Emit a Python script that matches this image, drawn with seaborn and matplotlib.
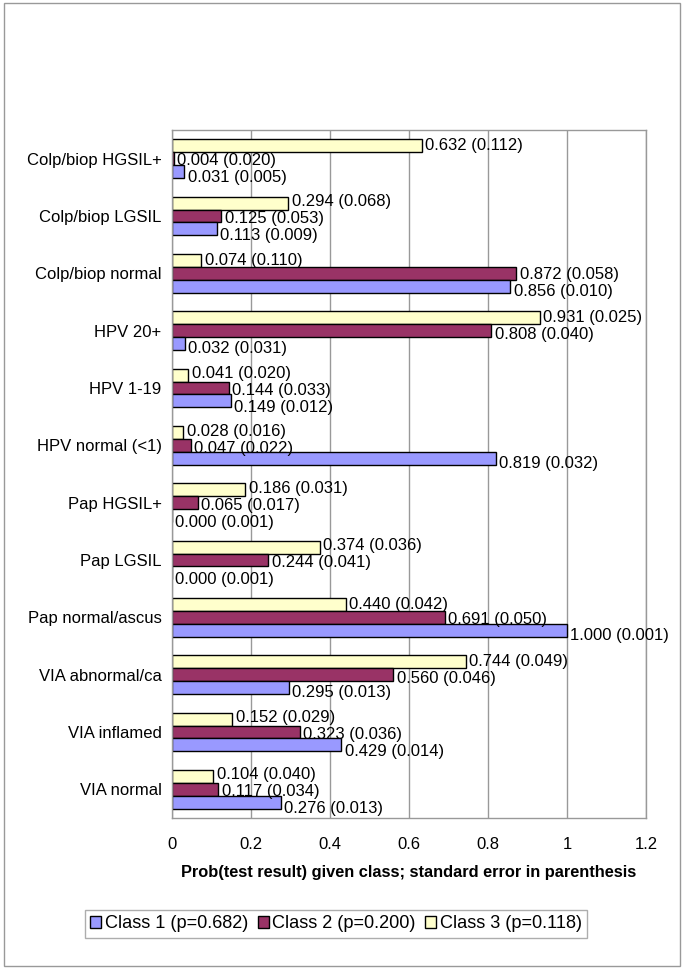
import matplotlib
matplotlib.use("Agg")
import matplotlib.pyplot as plt
import matplotlib.patches as mpatches
import numpy as np
import pandas as pd
import seaborn as sns

categories = ["Colp/biop HGSIL+", "Colp/biop LGSIL", "Colp/biop normal", "HPV 20+",
              "HPV 1-19", "HPV normal (<1)", "Pap HGSIL+", "Pap LGSIL",
              "Pap normal/ascus", "VIA abnormal/ca", "VIA inflamed", "VIA normal"]
class1 = [0.031, 0.113, 0.856, 0.032, 0.149, 0.819, 0.000, 0.000, 1.000, 0.295, 0.429, 0.276]
se1 = [0.005, 0.009, 0.010, 0.031, 0.012, 0.032, 0.001, 0.001, 0.001, 0.013, 0.014, 0.013]
class2 = [0.004, 0.125, 0.872, 0.808, 0.144, 0.047, 0.065, 0.244, 0.691, 0.560, 0.323, 0.117]
se2 = [0.020, 0.053, 0.058, 0.040, 0.033, 0.022, 0.017, 0.041, 0.050, 0.046, 0.036, 0.034]
class3 = [0.632, 0.294, 0.074, 0.931, 0.041, 0.028, 0.186, 0.374, 0.440, 0.744, 0.152, 0.104]
se3 = [0.112, 0.068, 0.110, 0.025, 0.020, 0.016, 0.031, 0.036, 0.042, 0.049, 0.029, 0.040]
series_names = ["Class 1 (p=0.682)", "Class 2 (p=0.200)", "Class 3 (p=0.118)"]
xticks = [0, 0.2, 0.4, 0.6, 0.8, 1, 1.2]
xtick_labels = ["0", "0.2", "0.4", "0.6", "0.8", "1", "1.2"]
xlabel = "Prob(test result) given class; standard error in parenthesis"

colors = {series_names[0]: "#9999FF", series_names[1]: "#993366", series_names[2]: "#FFFFCC"}

sns.set_theme(style="white")
plt.rcParams['font.family'] = ['Liberation Sans', 'DejaVu Sans']
plt.rcParams['text.color'] = 'black'
plt.rcParams['axes.labelcolor'] = 'black'
plt.rcParams['xtick.labelcolor'] = 'black'
plt.rcParams['ytick.labelcolor'] = 'black'
FS = 12
DPI = 100
PX = 72.0 / DPI  # points per pixel

rows = []
for name, vals, ses in zip(series_names, [class1, class2, class3], [se1, se2, se3]):
    for c, v, s in zip(categories, vals, ses):
        rows.append({"cat": c, "series": name, "value": v, "se": s})
df = pd.DataFrame(rows)

fig = plt.figure(figsize=(6.85, 9.68), dpi=DPI)
ax_top, ax_bot = 130, 818
ax = fig.add_axes([172/685, 1-ax_bot/968, (646-172)/685, (ax_bot-ax_top)/968])

hue_order = [series_names[2], series_names[1], series_names[0]]
group_w = 0.67
sns.barplot(data=df, y="cat", x="value", hue="series", order=categories,
            hue_order=hue_order, palette=colors, orient="h", width=group_w,
            edgecolor="black", linewidth=1.0, ax=ax, legend=False, saturation=1)

ax.set_xlim(0, 1.2)
ax.set_ylim(len(categories) - 0.5, -0.5)
ax.set_xticks(xticks)
ax.set_xticklabels(xtick_labels, fontsize=FS)
ax.set_yticks(range(len(categories)))
ax.set_yticklabels(categories, fontsize=FS)
ax.set_yticks(np.arange(-0.5, len(categories), 1.0), minor=True)
ax.tick_params(axis="y", which="major", length=0, pad=7.5, labelcolor="black")
ax.tick_params(axis="y", which="minor", length=5, color="#888888", direction="out", width=1)
ax.tick_params(axis="x", which="major", length=5, color="#888888", direction="out", width=1,
               pad=9, labelcolor="black")
ax.set_ylabel("")
ax.set_xlabel(xlabel, fontsize=11.8, fontweight="bold", labelpad=9, color="black")
ax.xaxis.grid(True, color="#999999", linewidth=1)
ax.set_axisbelow(True)
for sp in ax.spines.values():
    sp.set_color("#999999")
    sp.set_linewidth(1)

# data labels: bar-end labels, nudged apart when they would collide
bw = group_w / 3
unit_px = (ax_bot - ax_top) / len(categories)
base_px = [0.0, 2.5, 5.0]          # extra downward nudge for top/mid/bottom label
order = [2, 1, 0]                  # top-to-bottom: class3, class2, class1
all_vals = [class1, class2, class3]
all_ses = [se1, se2, se3]
text_w = 0.25                      # approximate label width in data units
min_gap = 17.0                     # px
for i in range(len(categories)):
    xs = [all_vals[k][i] for k in order]
    ys = [(j - 1) * bw * unit_px + base_px[j] for j in range(3)]  # px, downwards
    for _ in range(3):
        for j in range(2):
            if abs(xs[j] - xs[j + 1]) < text_w and ys[j + 1] - ys[j] < min_gap:
                d = (min_gap - (ys[j + 1] - ys[j])) / 2
                ys[j] -= d
                ys[j + 1] += d
    for j, k in enumerate(order):
        v, s = all_vals[k][i], all_ses[k][i]
        ax.annotate(f"{v:.3f} ({s:.3f})", xy=(v, i), xytext=(2.5, -ys[j] * PX),
                    textcoords="offset points", ha="left", va="center", fontsize=FS,
                    color="black")

handles = [mpatches.Patch(facecolor=colors[n], edgecolor="black", linewidth=1, label=n)
           for n in series_names]
leg = fig.legend(handles=handles, loc="center", bbox_to_anchor=(336/685, 1-924/968), ncol=3,
                 fontsize=13.1, frameon=True, fancybox=False, edgecolor="#999999",
                 handlelength=0.6, handleheight=0.6, handletextpad=0.18, columnspacing=0.55,
                 borderpad=0.3, borderaxespad=0)
leg.get_frame().set_linewidth(1)
for t in leg.get_texts():
    t.set_color("black")

fig.patches.append(mpatches.Rectangle((4/685, 2/968), 676/685, 963/968, transform=fig.transFigure,
                                      fill=False, edgecolor="#999999", linewidth=1))

fig.savefig("out.png", dpi=DPI)
